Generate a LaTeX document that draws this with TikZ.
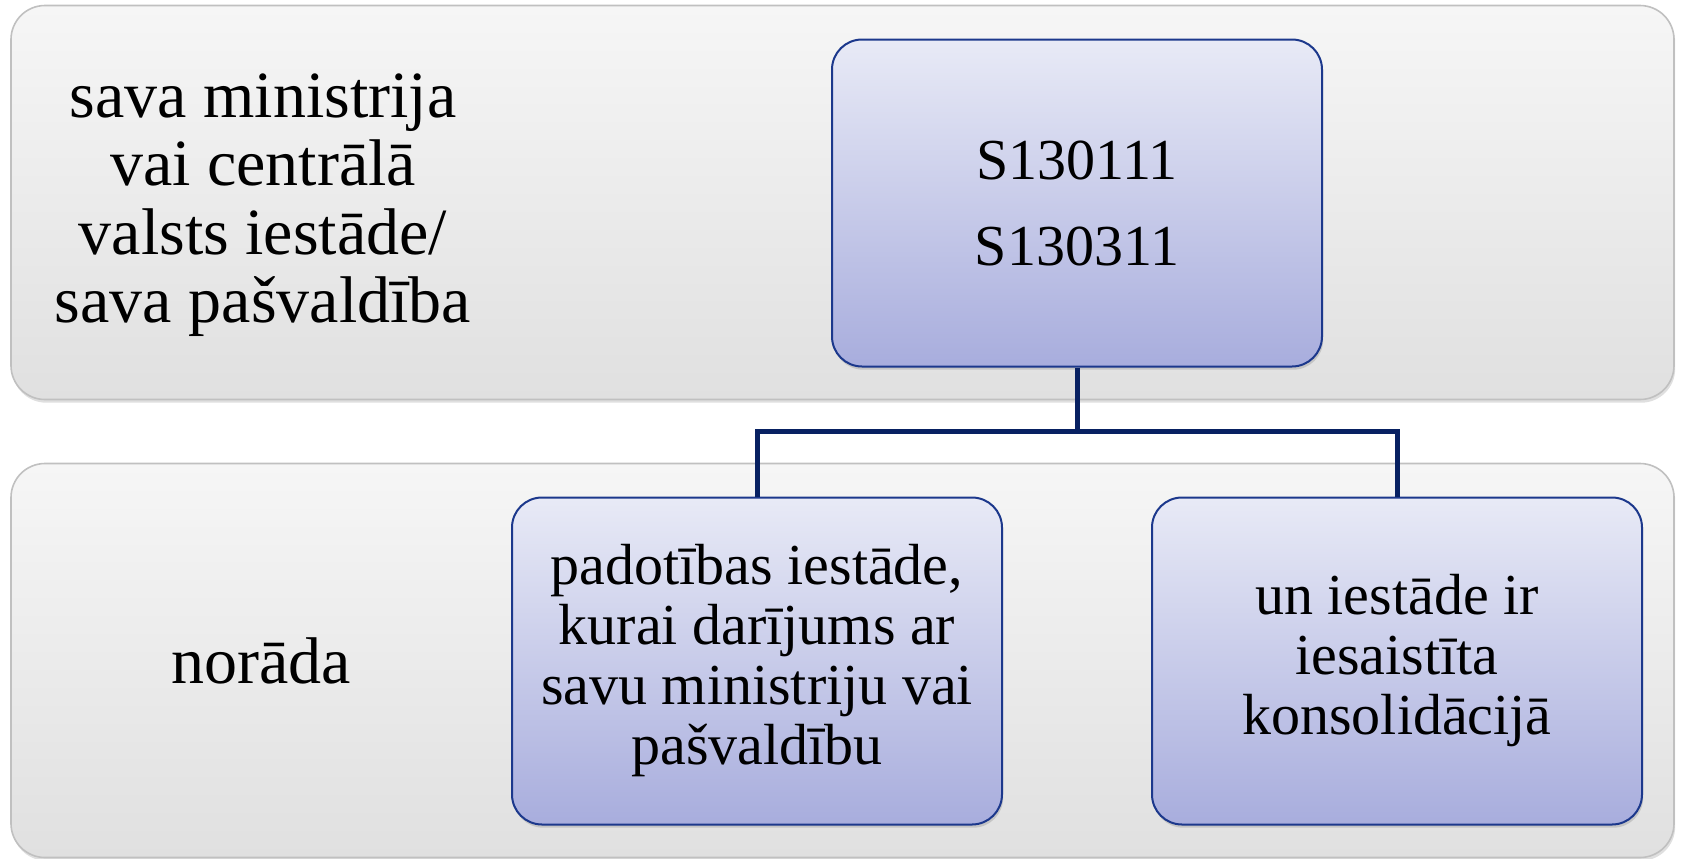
\documentclass[tikz,border=0pt]{standalone}
\usepackage{fontspec}
\setmainfont{Liberation Serif}
\usetikzlibrary{positioning, shadows}
\definecolor{tienavy}{RGB}{8,33,98}
\definecolor{boxedge}{RGB}{28,56,140}
\definecolor{boxtop}{RGB}{232,234,246}
\definecolor{boxbottom}{RGB}{168,173,221}
\definecolor{tiertop}{RGB}{246,246,246}
\definecolor{tierbottom}{RGB}{224,224,224}
\definecolor{tieredge}{RGB}{192,192,192}
\tikzset{
  x=0.5pt, y=-0.5pt,
  tier/.style={draw=tieredge, line width=0.8pt, rounded corners=17pt,
    top color=tiertop, bottom color=tierbottom,
    minimum width=831.5pt, minimum height=197pt,
    drop shadow={shadow xshift=0.6pt, shadow yshift=-1.6pt, opacity=0.25}},
  orgbox/.style={draw=boxedge, line width=1pt, rounded corners=15pt,
    top color=boxtop, bottom color=boxbottom,
    minimum width=245pt, minimum height=163.5pt, align=center,
    font=\fontsize{29}{30}\selectfont,
    drop shadow={shadow xshift=0.6pt, shadow yshift=-1.6pt, opacity=0.3}},
  tiertext/.style={align=center, font=\fontsize{33}{34.2}\selectfont},
  tie/.style={draw=tienavy, line width=2.5pt},
}
\begin{document}
\begin{tikzpicture}
  \useasboundingbox (0,0) rectangle (1683,858);

  % tiers
  \node[tier] (uppertier) at (842.5,202.5) {};
  \node[tier] (lowertier) at (842.5,660.5) {};
  \node[tiertext] (owner) at (263,205) {sava ministrija\\vai centrālā\\valsts iestāde/\\sava pašvaldība};
  \node[tiertext] (note) at (261,661) {norāda};

  % boxes
  \node[orgbox, font=\fontsize{29}{43}\selectfont] (code) at (1077,203) {S130111\\S130311};
  \node[orgbox] (sub) at (757,661) {padotības iestāde,\\kurai darījums ar\\savu ministriju vai\\pašvaldību};
  \node[orgbox, right=74pt of sub] (cons) {un iestāde ir\\iesaistīta\\konsolidācijā};

  % ties
  \coordinate (split) at (1077,431);
  \draw[tie] (code.south) -- (split) -| (sub.north);
  \draw[tie] (split) -| (cons.north);
\end{tikzpicture}
\end{document}
